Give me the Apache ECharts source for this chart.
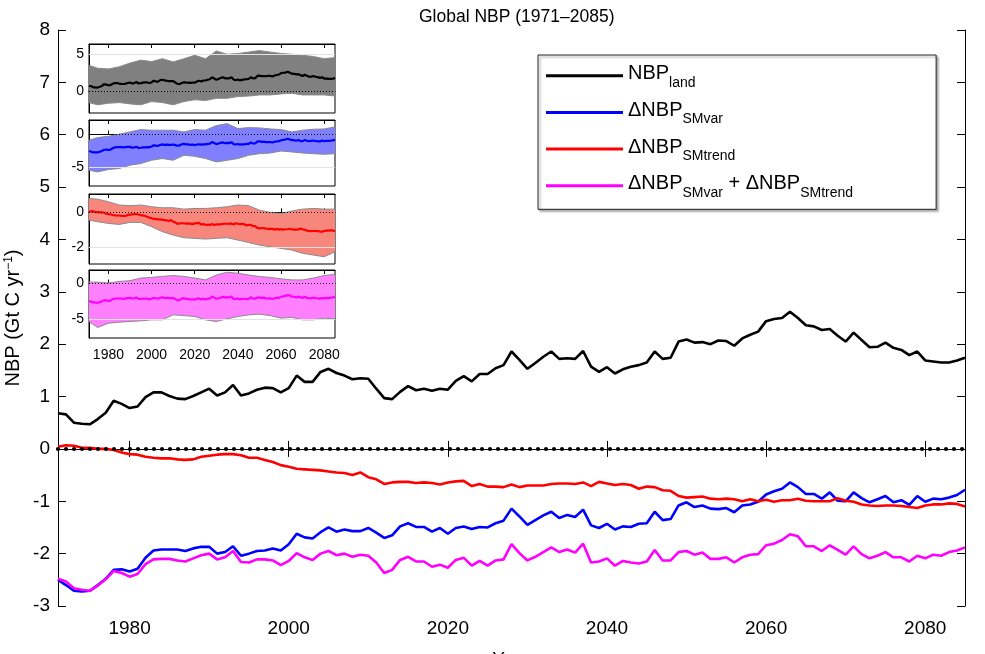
<!DOCTYPE html>
<html><head><meta charset="utf-8">
<script src="https://cdn.jsdelivr.net/npm/echarts@6/dist/echarts.min.js"></script>
<style>html,body{margin:0;padding:0;background:#fff;}#c{width:985px;height:654px;}</style>
</head><body><div id="c"></div>
<script>
// ---------------- DATA ----------------
const startYear = 1971;
const nbpLand = [
 0.68,0.66,0.50,0.48,0.47,0.57,0.69,0.92,0.86,0.78,
 0.81,0.99,1.08,1.08,1.01,0.96,0.95,1.01,1.08,1.15,
 1.02,1.08,1.22,1.02,1.06,1.13,1.17,1.16,1.08,1.16,
 1.40,1.28,1.28,1.47,1.53,1.45,1.40,1.33,1.35,1.34,
 1.15,0.97,0.95,1.09,1.20,1.12,1.15,1.11,1.15,1.13,
 1.30,1.39,1.29,1.43,1.43,1.54,1.60,1.86,1.70,1.53,
 1.64,1.76,1.86,1.72,1.73,1.72,1.87,1.57,1.47,1.56,
 1.44,1.52,1.57,1.60,1.65,1.86,1.72,1.74,2.05,2.09,
 2.03,2.04,2.00,2.07,2.06,1.97,2.11,2.18,2.24,2.44,
 2.48,2.50,2.62,2.50,2.36,2.34,2.27,2.29,2.16,2.05,
 2.22,2.08,1.94,1.95,2.03,1.93,1.89,1.79,1.86,1.69,
 1.67,1.65,1.65,1.69,1.74];
const smVar = [
 -2.50,-2.60,-2.71,-2.72,-2.71,-2.60,-2.48,-2.31,-2.30,-2.34,
 -2.29,-2.08,-1.94,-1.92,-1.92,-1.92,-1.95,-1.90,-1.87,-1.87,
 -2.00,-1.97,-1.86,-2.04,-2.00,-1.95,-1.94,-1.90,-1.94,-1.82,
 -1.62,-1.69,-1.71,-1.59,-1.50,-1.58,-1.54,-1.57,-1.57,-1.51,
 -1.60,-1.70,-1.65,-1.48,-1.42,-1.49,-1.49,-1.58,-1.51,-1.62,
 -1.51,-1.48,-1.53,-1.49,-1.50,-1.42,-1.37,-1.14,-1.29,-1.45,
 -1.36,-1.27,-1.20,-1.32,-1.26,-1.30,-1.16,-1.46,-1.51,-1.43,
 -1.54,-1.48,-1.49,-1.43,-1.42,-1.20,-1.36,-1.34,-1.08,-1.02,
 -1.11,-1.08,-1.14,-1.15,-1.13,-1.21,-1.08,-1.06,-1.01,-0.87,
 -0.81,-0.76,-0.64,-0.73,-0.86,-0.86,-0.95,-0.83,-0.99,-1.00,
 -0.83,-0.94,-1.02,-0.96,-0.90,-1.02,-0.98,-1.07,-0.90,-1.01,
 -0.95,-0.96,-0.93,-0.88,-0.78];
const smTrend = [
 0.04,0.07,0.06,0.02,0.02,0.00,0.00,-0.02,-0.07,-0.10,
 -0.11,-0.15,-0.17,-0.18,-0.18,-0.20,-0.21,-0.20,-0.15,-0.13,
 -0.11,-0.10,-0.10,-0.12,-0.17,-0.17,-0.21,-0.25,-0.31,-0.34,
 -0.38,-0.39,-0.40,-0.41,-0.43,-0.45,-0.46,-0.50,-0.45,-0.54,
 -0.58,-0.67,-0.64,-0.63,-0.63,-0.65,-0.64,-0.65,-0.68,-0.64,
 -0.62,-0.61,-0.71,-0.67,-0.72,-0.72,-0.73,-0.68,-0.73,-0.70,
 -0.70,-0.70,-0.67,-0.66,-0.66,-0.67,-0.64,-0.71,-0.63,-0.66,
 -0.69,-0.67,-0.69,-0.76,-0.72,-0.73,-0.79,-0.80,-0.90,-0.93,
 -0.92,-0.91,-0.95,-0.96,-0.95,-0.96,-1.00,-0.96,-1.00,-0.97,
 -1.01,-0.98,-0.98,-0.95,-0.99,-1.00,-1.00,-1.00,-0.94,-0.99,
 -1.01,-1.06,-1.08,-1.09,-1.08,-1.08,-1.09,-1.11,-1.13,-1.08,
 -1.06,-1.06,-1.04,-1.05,-1.10];
const smSum = [
 -2.48,-2.53,-2.66,-2.69,-2.71,-2.61,-2.49,-2.33,-2.37,-2.44,
 -2.39,-2.20,-2.11,-2.10,-2.10,-2.13,-2.15,-2.09,-2.03,-2.00,
 -2.11,-2.07,-1.95,-2.16,-2.17,-2.11,-2.11,-2.13,-2.22,-2.14,
 -1.99,-2.07,-2.12,-2.00,-1.95,-2.03,-2.00,-2.06,-2.02,-2.04,
 -2.17,-2.37,-2.31,-2.12,-2.06,-2.15,-2.15,-2.25,-2.21,-2.27,
 -2.12,-2.08,-2.23,-2.14,-2.23,-2.13,-2.11,-1.82,-1.99,-2.13,
 -2.06,-1.97,-1.88,-1.97,-1.92,-1.98,-1.81,-2.17,-2.15,-2.09,
 -2.23,-2.14,-2.17,-2.19,-2.15,-1.93,-2.13,-2.13,-1.97,-1.95,
 -2.02,-1.98,-2.10,-2.10,-2.07,-2.17,-2.07,-2.02,-2.01,-1.84,
 -1.81,-1.74,-1.63,-1.67,-1.86,-1.86,-1.95,-1.84,-1.93,-2.02,
 -1.86,-2.01,-2.09,-2.04,-1.97,-2.07,-2.07,-2.15,-2.04,-2.09,
 -2.02,-2.04,-1.97,-1.94,-1.88];

// ensemble spread bands for the insets (read every 5 years)
const bandYears = [1971,1975,1980,1985,1990,1995,2000,2005,2010,2015,2020,2025,2030,2035,2040,2045,2050,2055,2060,2065,2070,2075,2080,2085];
const landUpper = [3.5,3.1,3.0,3.3,3.8,4.2,4.0,4.4,3.96,4.4,4.86,4.4,5.45,5.0,5.1,5.3,5.5,5.3,5.1,5.0,4.86,4.7,4.4,4.55];
const landLower = [-1.58,-1.89,-1.67,-1.58,-1.76,-1.89,-1.44,-1.58,-1.89,-1.44,-1.2,-1.3,-1.0,-1.0,-0.76,-0.7,-0.54,-0.54,-0.4,-0.31,-0.54,-0.54,-0.54,-0.68];
const varUpper = [-0.86,-0.46,-0.26,0.05,0.4,0.75,0.65,0.65,0.65,0.4,0.75,0.65,1.35,1.65,0.9,1.05,1.0,0.85,0.75,0.4,0.65,0.8,0.85,1.15];
const varLower = [-5.41,-5.66,-5.3,-5.15,-4.65,-4.4,-3.9,-3.64,-3.9,-3.14,-3.3,-3.64,-4.15,-3.9,-3.64,-3.14,-2.9,-2.8,-2.5,-2.64,-2.8,-2.9,-3.0,-2.9];
const trendUpper = [0.81,0.77,0.62,0.43,0.39,0.43,0.33,0.27,0.27,0.19,0.23,0.23,0.27,0.33,0.43,0.39,0.13,0.0,-0.06,0.08,0.19,0.23,0.19,0.19];
const trendLower = [-0.45,-0.54,-0.64,-0.7,-0.58,-0.58,-0.83,-1.12,-1.32,-1.47,-1.51,-1.55,-1.51,-1.47,-1.61,-1.75,-1.9,-2.0,-2.09,-2.19,-2.38,-2.48,-2.58,-2.29];
const sumUpper = [0.2,0.2,0.06,0.3,0.4,0.77,0.86,1.0,1.12,1.0,0.77,0.51,1.2,1.59,1.44,1.2,0.98,0.86,0.66,0.51,0.51,0.77,1.12,1.3];
const sumLower = [-5.33,-6.17,-5.57,-5.43,-5.33,-5.24,-5.1,-5.1,-4.4,-4.5,-4.63,-5.1,-5.33,-4.95,-4.63,-4.4,-4.3,-4.5,-4.86,-4.75,-5.1,-5.1,-4.86,-4.95];

// tick labels
const mainXTicks = [1980,2000,2020,2040,2060,2080];
const insetXTicks = [1980,2000,2020,2040,2060,2080];
const insetYTicks = [[0,5],[-5,0],[-2,0],[-5,0]];
const insetGridVals = [[5],[-5],[-2],[-5]];
const seriesNames = ['NBP_land','dNBP_SMvar','dNBP_SMtrend','dNBP_sum'];

// ---------------- CHART ----------------
const FONT = '"Liberation Sans", Arial, Helvetica, sans-serif';
const years = nbpLand.map((_, i) => startYear + i);
const pairs = arr => years.map((y, i) => [y, arr[i]]);
const plain = v => String(v);

const mainColors = ['#000000', '#0000ff', '#ff0000', '#ff00ff'];
const mainData = [nbpLand, smVar, smTrend, smSum];
const insetUpper = [landUpper, varUpper, trendUpper, sumUpper];
const insetLower = [landLower, varLower, trendLower, sumLower];
const insetFill = ['#808080', '#8080ff', '#f7877d', '#ff80ff'];
const insetRanges = [[-3, 6.4], [-7.8, 2.2], [-3, 1.07], [-7.65, 1.9]];
const insetBoxes = [[44, 69], [120, 66], [194, 70], [270, 68]];

const grids = [{left: 58, right: 20, top: 30, bottom: 48, containLabel: false, outerBoundsMode: 'none'}];
insetBoxes.forEach(b => grids.push({left: 89, width: 246, top: b[0], height: b[1], show: true,
  backgroundColor: '#fff', borderColor: '#000', borderWidth: 1, containLabel: false, outerBoundsMode: 'none'}));

const axLine = {show: true, lineStyle: {color: '#000', width: 1}};
const xAxes = [
  {type: 'value', gridIndex: 0, position: 'bottom', min: 1971, max: 2085, axisLine: axLine,
   axisTick: {show: true, inside: true, length: 8, customValues: mainXTicks, lineStyle: {color: '#000'}},
   axisLabel: {show: true, customValues: mainXTicks, formatter: plain, fontSize: 19, margin: 13, color: '#000', fontFamily: FONT},
   splitLine: {show: false}, name: 'Year', nameLocation: 'middle', nameGap: 44, nameMoveOverlap: false,
   nameTextStyle: {fontSize: 19, color: '#000', fontFamily: FONT}},
  {type: 'value', gridIndex: 0, position: 'top', min: 1971, max: 2085, axisLine: axLine,
   axisTick: {show: true, inside: true, length: 8, customValues: mainXTicks, lineStyle: {color: '#000'}},
   axisLabel: {show: false}, splitLine: {show: false}}
];
const yAxes = [
  {type: 'value', gridIndex: 0, position: 'left', min: -3, max: 8, interval: 1, axisLine: axLine,
   axisTick: {show: true, inside: true, length: 8, lineStyle: {color: '#000'}},
   axisLabel: {fontSize: 19, margin: 8, color: '#000', fontFamily: FONT, formatter: plain},
   splitLine: {show: false},
   name: '{m|NBP (Gt C yr}{s|−1}{m|)}', nameLocation: 'middle', nameGap: 33, nameRotate: 90, nameMoveOverlap: false,
   nameTextStyle: {color: '#000', fontFamily: FONT, rich: {
     m: {fontSize: 20, lineHeight: 22, verticalAlign: 'top', fontFamily: FONT, color: '#000'},
     s: {fontSize: 12, lineHeight: 12, verticalAlign: 'top', fontFamily: FONT, color: '#000'}}}},
  {type: 'value', gridIndex: 0, position: 'right', min: -3, max: 8, interval: 1, axisLine: axLine,
   axisTick: {show: true, inside: true, length: 8, lineStyle: {color: '#000'}},
   axisLabel: {show: false}, splitLine: {show: false}}
];

const series = [];
mainData.forEach((arr, k) => {
  const s = {name: seriesNames[k], type: 'line', xAxisIndex: 0, yAxisIndex: 0, data: pairs(arr),
    showSymbol: false, symbol: 'none', color: mainColors[k], z: 3 + (k === 0 ? 1 : 0),
    lineStyle: {color: mainColors[k], width: 2.6}, animation: false};
  if (k === 0) {
    s.markLine = {silent: true, symbol: 'none', label: {show: false}, animation: false,
      data: [{yAxis: 0}],
      lineStyle: {color: '#000', width: 4.2, type: [0.01, 7.99], cap: 'round'}};
  }
  series.push(s);
});

for (let i = 0; i < 4; i++) {
  const gi = i + 1;
  xAxes.push({type: 'value', gridIndex: gi, position: 'bottom', min: 1971, max: 2085, axisLine: axLine,
    axisTick: {show: true, inside: true, length: 4, customValues: insetXTicks, lineStyle: {color: '#000'}},
    axisLabel: {show: i === 3, customValues: insetXTicks, formatter: plain, fontSize: 14, margin: 10, color: '#000', fontFamily: FONT},
    splitLine: {show: false}});
  xAxes.push({type: 'value', gridIndex: gi, position: 'top', min: 1971, max: 2085, axisLine: axLine,
    axisTick: {show: true, inside: true, length: 4, customValues: insetXTicks, lineStyle: {color: '#000'}},
    axisLabel: {show: false}, splitLine: {show: false}});
  yAxes.push({type: 'value', gridIndex: gi, position: 'left', min: insetRanges[i][0], max: insetRanges[i][1],
    axisLine: axLine,
    axisTick: {show: true, inside: true, length: 3, customValues: insetYTicks[i], lineStyle: {color: '#000'}},
    axisLabel: {show: true, customValues: insetYTicks[i], formatter: plain, fontSize: 14, margin: 5, color: '#000', fontFamily: FONT},
    splitLine: {show: false}});
  const xb = 2 + 2 * i, yb = 2 + i;
  const U = insetUpper[i], L = insetLower[i], fill = insetFill[i];
  series.push({name: 'band' + i, type: 'custom', xAxisIndex: xb, yAxisIndex: yb, z: 1, silent: true, animation: false,
    data: bandYears.map((y, j) => [y, L[j], U[j]]),
    encode: {x: 0, y: [1, 2]},
    renderItem: (params, api) => {
      if (params.dataIndex !== 0) return null;
      const up = bandYears.map((y, j) => api.coord([y, U[j]]));
      const lo = bandYears.map((y, j) => api.coord([y, L[j]]));
      return {type: 'group', children: [
        {type: 'polygon', shape: {points: up.concat(lo.slice().reverse())}, style: {fill: fill, stroke: null}},
        {type: 'polyline', shape: {points: up}, style: {stroke: '#8a8a8a', lineWidth: 1, fill: null}},
        {type: 'polyline', shape: {points: lo}, style: {stroke: '#8a8a8a', lineWidth: 1, fill: null}}
      ]};
    }});
  series.push({name: 'mean' + i, type: 'line', xAxisIndex: xb, yAxisIndex: yb, data: pairs(mainData[i]),
    showSymbol: false, symbol: 'none', z: 3, lineStyle: {color: mainColors[i], width: 2.2}, animation: false,
    markLine: {silent: true, symbol: 'none', label: {show: false}, animation: false,
      data: [{yAxis: 0, lineStyle: {color: '#000', width: 1, type: [1, 2]}}].concat(
        insetGridVals[i].map(v => ({yAxis: v, lineStyle: {color: '#e2e2e2', width: 1, type: 'solid'}})))}});
}

const legendText = {
  'NBP_land': '{m|NBP}{s|land}',
  'dNBP_SMvar': '{m|ΔNBP}{s|SMvar}',
  'dNBP_SMtrend': '{m|ΔNBP}{s|SMtrend}',
  'dNBP_sum': '{m|ΔNBP}{s|SMvar}{m| + ΔNBP}{s|SMtrend}'
};

const option = {
  animation: false,
  backgroundColor: '#fff',
  title: {text: 'Global NBP (1971–2085)', left: 414, top: 3,
    textStyle: {fontSize: 17.5, fontWeight: 'normal', color: '#000', fontFamily: FONT}},
  grid: grids,
  xAxis: xAxes,
  yAxis: yAxes,
  legend: {
    data: seriesNames, orient: 'vertical', left: 538, top: 55,
    icon: 'rect', itemWidth: 77, itemHeight: 3, itemGap: 10.7,
    padding: [8.7, 83, 9.5, 8], backgroundColor: '#fff', borderColor: '#222', borderWidth: 1,
    shadowColor: 'rgba(0,0,0,0.35)', shadowBlur: 2, shadowOffsetX: 2, shadowOffsetY: 2,
    selectedMode: false,
    formatter: n => legendText[n],
    textStyle: {color: '#000', fontFamily: FONT, rich: {
      m: {fontSize: 20, lineHeight: 24, verticalAlign: 'top', fontFamily: FONT, color: '#000'},
      s: {fontSize: 14, lineHeight: 14, verticalAlign: 'top', padding: [12, 0, 0, 0], fontFamily: FONT, color: '#000'}}}
  },
  series: series
};

const chart = echarts.init(document.getElementById('c'), null, {renderer: 'canvas'});
chart.setOption(option);
</script></body></html>
